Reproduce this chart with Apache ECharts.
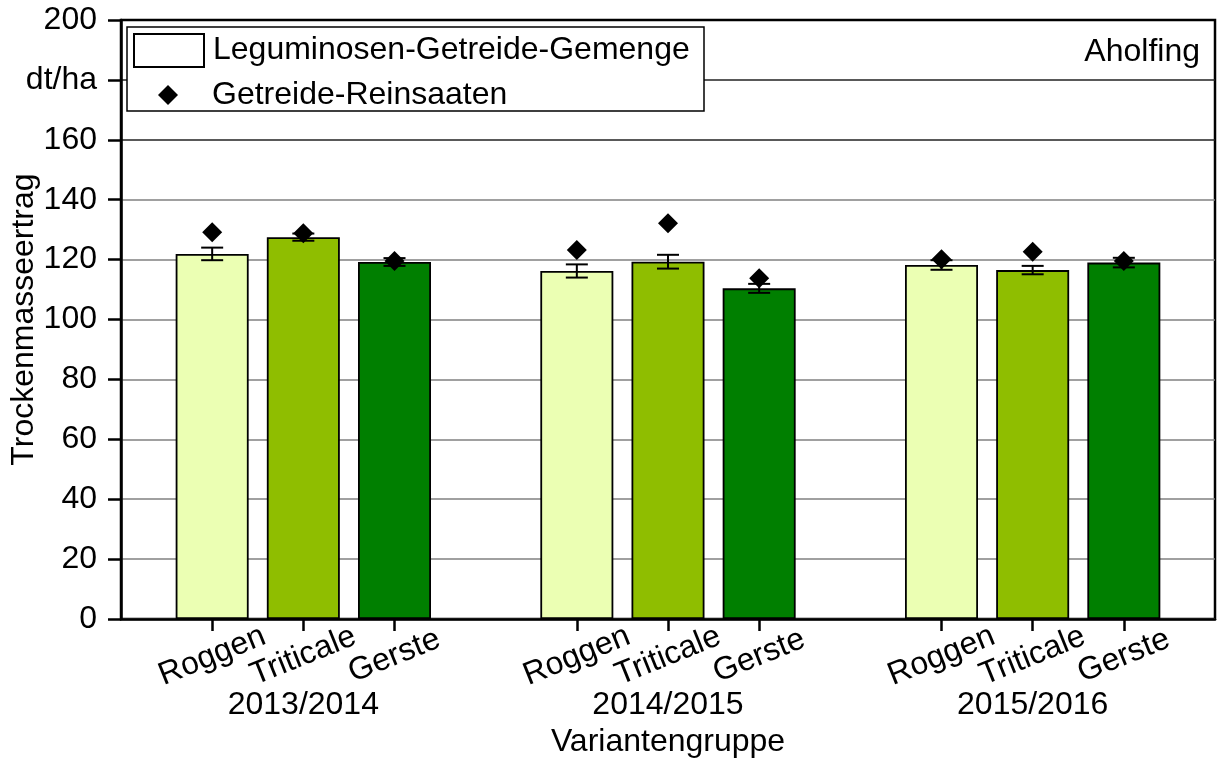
<!DOCTYPE html>
<html>
<head>
<meta charset="utf-8">
<script src="https://cdn.jsdelivr.net/npm/echarts@6/dist/echarts.min.js"></script>
<style>
  html, body { margin: 0; padding: 0; background: #fff; }
  #chart { width: 1217px; height: 758px; }
</style>
</head>
<body>
<div id="chart"></div>
<script>
// positions on the x axis (0..12), three groups of three
const xPositions = [1, 2, 3, 5, 6, 7, 9, 10, 11];
const crops = ["Roggen", "Triticale", "Gerste", "Roggen", "Triticale", "Gerste", "Roggen", "Triticale", "Gerste"];
const cropNames = ["Roggen", "Triticale", "Gerste"];
const yearPositions = [2, 6, 10];
const years = ["2013/2014", "2014/2015", "2015/2016"];
const yTicks = [0, 20, 40, 60, 80, 100, 120, 140, 160, 180, 200];
const yTickLabels = ["0", "20", "40", "60", "80", "100", "120", "140", "160", "dt/ha", "200"];

// Leguminosen-Getreide-Gemenge (bars) with error
const mixValues = [121.9, 127.5, 119.2, 116.2, 119.3, 110.4, 118.2, 116.5, 119.0];
const mixErrors = [2.1, 1.2, 1.3, 2.2, 2.3, 1.5, 1.6, 1.4, 1.6];
// Getreide-Reinsaaten (diamonds)
const pureValues = [129.1, 128.8, 119.5, 123.2, 132.1, 113.8, 120.1, 122.6, 119.5];

const cropColors = { Roggen: "#ebffb3", Triticale: "#8fbe00", Gerste: "#007f00" };
const FONT = "Liberation Sans, Arial, sans-serif";
const FS = 32;

const chart = echarts.init(document.getElementById("chart"));

const barData = xPositions.map((x, i) => ({
  value: [x, mixValues[i]],
  itemStyle: { color: cropColors[crops[i]] }
}));
const errData = xPositions.map((x, i) => [x, mixValues[i] - mixErrors[i], mixValues[i] + mixErrors[i]]);
const pureData = xPositions.map((x, i) => [x, pureValues[i]]);

// one label axis per crop so the rotated labels never collide inside one axis
const cropAxes = cropNames.map((name) => {
  const pos = xPositions.filter((x, i) => crops[i] === name);
  return {
    type: "value", min: 0, max: 12,
    position: "bottom",
    splitLine: { show: false },
    axisLine: { show: false },
    axisTick: {
      show: true, customValues: pos, length: 12, inside: false,
      lineStyle: { color: "#000", width: 2.5 }
    },
    axisLabel: {
      show: true,
      customValues: pos,
      hideOverlap: false,
      formatter: () => name,
      rotate: 22, align: "center", verticalAlign: "middle", margin: 37,
      fontFamily: FONT, fontSize: FS, color: "#000"
    }
  };
});

const option = {
  animation: false,
  textStyle: { fontFamily: FONT, color: "#000" },
  title: {
    text: "Aholfing",
    right: 12,
    top: 31,
    textStyle: { fontFamily: FONT, fontSize: FS, fontWeight: "normal", color: "#000" }
  },
  graphic: [{
    type: "rect",
    z: 50,
    shape: { x: 127, y: 27, width: 577, height: 84 },
    style: { fill: "#fff", stroke: "#000", lineWidth: 1.5 }
  }],
  legend: [
    {
      data: [{ name: "Leguminosen-Getreide-Gemenge", icon: "rect" }],
      left: 133, top: 33, padding: 0, z: 60,
      itemWidth: 70, itemHeight: 33, itemGap: 9,
      textStyle: { fontFamily: FONT, fontSize: FS, color: "#000", padding: [0, 0, 0, 4] }
    },
    {
      data: [{ name: "Getreide-Reinsaaten", icon: "path://M0,-1L1,0L0,1L-1,0Z", itemStyle: { color: "#000", opacity: 1 } }],
      left: 158, top: 79, padding: 0, z: 60,
      itemWidth: 70, itemHeight: 20, itemGap: 9,
      textStyle: { fontFamily: FONT, fontSize: FS, color: "#000", padding: [0, 0, 0, 4] }
    }
  ],
  grid: {
    left: 121, right: 2, top: 20, bottom: 139,
    outerBoundsMode: "none",
    containLabel: false,
    show: true, borderColor: "#000", borderWidth: 2.5, backgroundColor: "transparent"
  },
  xAxis: [
    {
      type: "value", min: 0, max: 12,
      position: "bottom",
      splitLine: { show: false },
      axisLine: { show: true, onZero: false, lineStyle: { color: "#000", width: 2.5 } },
      axisTick: { show: false },
      axisLabel: { show: false }
    },
    ...cropAxes,
    {
      type: "value", min: 0, max: 12,
      position: "bottom",
      splitLine: { show: false },
      axisLine: { show: false },
      axisTick: { show: false },
      axisLabel: {
        show: true,
        customValues: yearPositions,
        hideOverlap: false,
        formatter: (v) => years[yearPositions.indexOf(v)] || "",
        margin: 70,
        fontFamily: FONT, fontSize: FS, color: "#000"
      },
      name: "Variantengruppe",
      nameLocation: "middle",
      nameGap: 107,
      nameMoveOverlap: false,
      nameTextStyle: { fontFamily: FONT, fontSize: FS, color: "#000" }
    }
  ],
  yAxis: {
    type: "value", min: 0, max: 200, interval: 20,
    axisLine: { show: true, lineStyle: { color: "#000", width: 2.5 } },
    axisTick: { show: true, length: 13, lineStyle: { color: "#000", width: 2.5 } },
    axisLabel: {
      margin: 24,
      showMinLabel: true, showMaxLabel: true,
      formatter: (v) => yTickLabels[yTicks.indexOf(v)],
      fontFamily: FONT, fontSize: FS, color: "#000"
    },
    splitLine: {
      show: true,
      lineStyle: {
        width: 1.5,
        color: ["#808080", "#808080", "#808080", "#808080", "#808080", "#808080",
                "#808080", "#808080", "#222222", "#222222", "#000000"]
      }
    },
    name: "Trockenmasseertrag",
    nameLocation: "middle",
    nameGap: 81,
    nameMoveOverlap: false,
    nameTextStyle: { fontFamily: FONT, fontSize: FS, color: "#000" }
  },
  series: [
    {
      name: "Leguminosen-Getreide-Gemenge",
      type: "bar",
      barWidth: 73,
      itemStyle: { color: "#fff", borderColor: "#000", borderWidth: 1.8 },
      data: barData,
      z: 2
    },
    {
      name: "errors",
      type: "custom",
      z: 3,
      renderItem: function (params, api) {
        const x = api.value(0);
        const lo = api.coord([x, api.value(1)]);
        const hi = api.coord([x, api.value(2)]);
        const hw = 11;
        const st = { stroke: "#000", lineWidth: 2 };
        return {
          type: "group",
          children: [
            { type: "line", shape: { x1: lo[0], y1: lo[1], x2: hi[0], y2: hi[1] }, style: st },
            { type: "line", shape: { x1: lo[0] - hw, y1: lo[1], x2: lo[0] + hw, y2: lo[1] }, style: st },
            { type: "line", shape: { x1: hi[0] - hw, y1: hi[1], x2: hi[0] + hw, y2: hi[1] }, style: st }
          ]
        };
      },
      data: errData
    },
    {
      name: "Getreide-Reinsaaten",
      type: "scatter",
      symbol: "diamond",
      symbolSize: 20,
      itemStyle: { color: "#000", opacity: 1 },
      data: pureData,
      z: 4
    }
  ]
};

chart.setOption(option);
</script>
</body>
</html>
